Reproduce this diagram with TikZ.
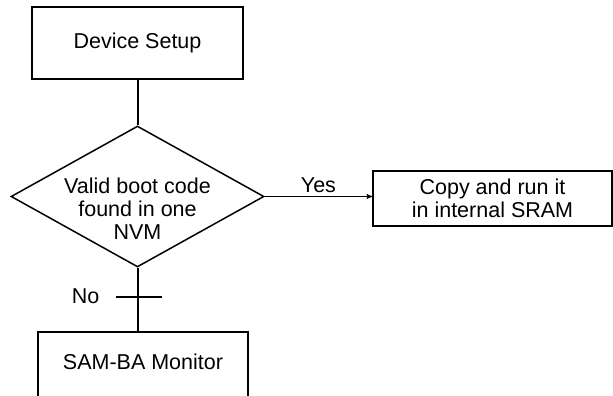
\documentclass[tikz,border=0pt]{standalone}
\usepackage{fontspec}
\setmainfont{Liberation Sans}
\usetikzlibrary{arrows,shapes.geometric}

\begin{document}
\begin{tikzpicture}[x=1pt,y=-1pt,>=stealth',auto,
	every node/.style={font=\fontsize{21.5}{23}\selectfont},
	block/.style={draw,rectangle,line width=1.8pt,inner sep=0pt,align=center},
	decision/.style={draw,diamond,line width=1.5pt,inner sep=0pt,
		shape aspect=1.794,minimum width=253pt,minimum height=141pt},
	link/.style={line width=2pt}]
	\useasboundingbox (0,0) rectangle (613,396);
	\clip (0,0) rectangle (613,396);
	\node[block,minimum width=211pt,minimum height=72pt](setup) at (137.5,43){Device Setup};
	\node[decision](valid) at (137.5,196.5){};
	\node[align=center,inner sep=0pt](validtext) at (137.5,208.5){Valid boot code\\found in one\\NVM};
	\node[block,minimum width=239pt,minimum height=55pt](copy) at (492.5,198.5){Copy and run it\\in internal SRAM};
	\node[block,minimum width=210pt,minimum height=68pt,text depth=8pt](monitor) at (143,366){SAM-BA Monitor};
	\node(no) at (85.5,296){No};
	\coordinate (tickl) at (116,297);
	\coordinate (tickr) at (162,297);
	
	\path (setup.south) edge[link] (valid.north)
		  (valid.east) edge[->,line width=1pt] node {Yes} (valid.east -| copy.west)
		  (valid.south) edge[link] (valid.south |- monitor.north)
		  (tickl) edge[line width=1.5pt] (tickr);
\end{tikzpicture}
\end{document}
